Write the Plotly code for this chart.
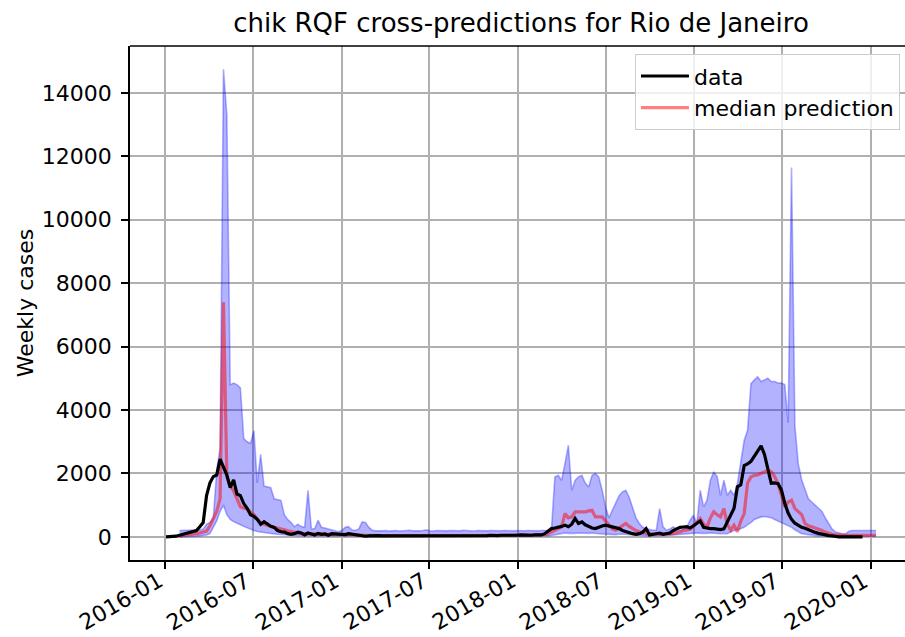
import pandas as pd
import plotly.graph_objects as go

# ---------------- data ----------------
data_start = "2016-01-03"
pred_start = "2016-01-31"

data_cases = [
    0, 0, 10, 20, 50, 80, 100, 130, 160, 200,
    320, 450, 1300, 1700, 1900, 1950, 2450, 2200, 1950, 1550,
    1800, 1350, 1300, 1050, 900, 700, 650, 550, 400, 480,
    400, 330, 300, 200, 160, 150, 100, 80, 100, 150,
    120, 60, 120, 80, 60, 110, 80, 90, 50, 100,
    90, 80, 60, 70, 100, 80, 70, 60, 40, 20,
    30, 40, 30, 40, 30, 30, 20, 30, 30, 20,
    20, 30, 20, 20, 30, 20, 20, 30, 30, 20,
    20, 30, 30, 40, 30, 20, 20, 30, 30, 40,
    30, 30, 40, 40, 30, 40, 50, 40, 40, 50,
    40, 50, 50, 40, 50, 60, 50, 40, 50, 60,
    50, 60, 100, 180, 260, 280, 300, 330, 370, 320,
    400, 580, 420, 470, 380, 320, 280, 260, 310, 340,
    370, 340, 310, 280, 260, 200, 160, 120, 100, 80,
    100, 150, 260, 60, 80, 100, 120, 80, 100, 120,
    200, 250, 300, 310, 320, 280, 350, 420, 500, 300,
    270, 260, 260, 250, 230, 250, 450, 650, 900, 1580,
    1640, 2250, 2300, 2380, 2550, 2700, 2870, 2600, 2170, 1690,
    1700, 1680, 1480, 1060, 750, 550, 430, 350, 300, 270,
    220, 180, 140, 110, 80, 60, 40, 30, 10, 0,
    0, 0, 0, 0, 0, 0, 0,
]

median_pred = [
    30, 40, 50, 60, 80, 100, 120, 150, 180, 350,
    550, 800, 1200, 7400, 1900, 1600, 1450, 1200, 950, 900,
    880, 780, 700, 550, 450, 400, 360, 330, 300, 280,
    260, 220, 190, 160, 140, 120, 110, 105, 110, 100,
    90, 110, 100, 90, 80, 90, 70, 80, 70, 60,
    70, 80, 60, 50, 60, 50, 40, 50, 40, 40,
    40, 30, 40, 40, 30, 30, 40, 30, 30, 40,
    30, 30, 40, 30, 30, 40, 40, 30, 30, 40,
    40, 30, 40, 40, 50, 40, 40, 50, 40, 40,
    50, 40, 50, 50, 40, 50, 50, 40, 50, 50,
    60, 50, 50, 60, 50, 50, 60, 60, 80, 100,
    150, 200, 250, 315, 735, 600, 630, 790, 790, 780,
    790, 820, 840, 630, 630, 630, 500, 370, 250, 210,
    280, 380, 420, 330, 260, 200, 160, 130, 110, 105,
    90, 80, 80, 90, 80, 90, 100, 120, 150, 200,
    210, 250, 315, 450, 580, 400, 315, 600, 790, 700,
    630, 890, 400, 210, 370, 160, 500, 735, 1700, 1890,
    1940, 1950, 2000, 2050, 2100, 2050, 1900, 1680, 1300, 945,
    1100, 1155, 890, 800, 700, 420, 350, 315, 280, 260,
    200, 150, 110, 80, 60, 50, 50, 50, 50, 50,
    50, 50, 50, 50, 50, 50, 50,
]

upper_pred = [
    200, 200, 200, 210, 210, 220, 220, 250, 400, 450,
    600, 2100, 2800, 14750, 13300, 4800, 4850, 4800, 4700, 3100,
    3000, 2950, 3350, 1700, 2600, 1600, 1580, 1550, 1200, 1180,
    1150, 700, 550, 450, 320, 400, 330, 300, 1470, 250,
    260, 520, 300, 280, 250, 220, 180, 160, 200, 300,
    320, 220, 200, 250, 470, 450, 300, 210, 190, 180,
    190, 200, 180, 190, 200, 180, 190, 200, 210, 190,
    180, 190, 200, 220, 190, 180, 200, 190, 180, 190,
    200, 190, 180, 190, 210, 200, 190, 180, 200, 190,
    180, 190, 200, 190, 180, 190, 200, 190, 180, 190,
    200, 190, 190, 200, 190, 180, 190, 200, 200, 210,
    230, 1890, 1940, 1785, 2310, 2890, 1470, 1785, 1890, 1940,
    1700, 1575, 1940, 1995, 1890, 1470, 945, 600, 840, 1050,
    1300, 1420, 1470, 1250, 900, 600, 420, 300, 260, 230,
    210, 210, 890, 315, 210, 250, 315, 250, 210, 250,
    300, 525, 680, 420, 1470, 945, 1155, 1785, 2050, 1900,
    1310, 1785, 1310, 1470, 1310, 1680, 2310, 3045, 3360, 4830,
    4950, 5050, 4900, 4950, 5000, 4900, 4900, 4850, 4850, 4800,
    3600, 11650, 3500, 2300, 1800, 1500, 1200, 1100, 1000, 900,
    800, 600, 400, 250, 150, 120, 100, 100, 180, 200,
    200, 200, 200, 200, 200, 200, 200,
]

lower_pred = [
    0, 0, 10, 10, 20, 20, 30, 40, 60, 100,
    300, 500, 800, 1000, 700, 550, 480, 420, 380, 330,
    280, 230, 200, 170, 150, 130, 110, 100, 90, 80,
    70, 60, 50, 50, 45, 40, 40, 35, 35, 30,
    30, 30, 30, 25, 25, 25, 20, 20, 20, 20,
    20, 20, 20, 20, 15, 15, 15, 15, 15, 15,
    15, 10, 15, 15, 10, 10, 15, 10, 10, 15,
    10, 10, 15, 10, 10, 15, 15, 10, 10, 15,
    15, 10, 15, 15, 20, 15, 15, 20, 15, 15,
    20, 15, 20, 20, 15, 20, 20, 15, 20, 20,
    20, 20, 20, 25, 20, 20, 25, 25, 30, 30,
    40, 60, 80, 100, 120, 110, 100, 110, 120, 110,
    100, 110, 120, 100, 100, 90, 80, 70, 60, 70,
    80, 90, 80, 70, 60, 50, 40, 40, 30, 30,
    30, 30, 40, 40, 40, 50, 60, 70, 80, 90,
    100, 110, 120, 120, 110, 100, 110, 120, 110, 100,
    100, 110, 100, 150, 200, 220, 250, 300, 380, 450,
    550, 600, 630, 640, 630, 600, 550, 500, 450, 400,
    350, 300, 220, 150, 100, 80, 60, 50, 40, 30,
    30, 20, 20, 20, 20, 20, 20, 20, 20, 20,
    20, 20, 20, 20, 20, 20, 20,
]

x_tick_dates = ["2016-01-01", "2016-07-01", "2017-01-01", "2017-07-01", "2018-01-01",
                "2018-07-01", "2019-01-01", "2019-07-01", "2020-01-01"]
x_tick_labels = ["2016-01", "2016-07", "2017-01", "2017-07", "2018-01",
                 "2018-07", "2019-01", "2019-07", "2020-01"]
y_tick_vals = [0, 2000, 4000, 6000, 8000, 10000, 12000, 14000]
y_tick_labels = ["0", "2000", "4000", "6000", "8000", "10000", "12000", "14000"]

data_dates = pd.date_range(data_start, periods=len(data_cases), freq="7D")
pred_dates = pd.date_range(pred_start, periods=len(median_pred), freq="7D")

# ---------------- figure ----------------
FONT = "DejaVu Sans"
FS = 22
band_line = "rgba(0,0,255,0.3)"

fig = go.Figure()
fig.add_trace(go.Scatter(x=pred_dates, y=lower_pred, mode="lines",
                         line=dict(color=band_line, width=1.6),
                         showlegend=False, hoverinfo="skip"))
fig.add_trace(go.Scatter(x=pred_dates, y=upper_pred, mode="lines", fill="tonexty",
                         fillcolor="rgba(0,0,255,0.3)",
                         line=dict(color=band_line, width=1.6),
                         showlegend=False, hoverinfo="skip"))
fig.add_trace(go.Scatter(x=pred_dates, y=median_pred, mode="lines",
                         name="median prediction", legendrank=2,
                         line=dict(color="rgba(255,0,0,0.5)", width=3.2)))
fig.add_trace(go.Scatter(x=data_dates, y=data_cases, mode="lines",
                         name="data", legendrank=1,
                         line=dict(color="black", width=3.2)))

fig.update_layout(
    width=905, height=637,
    margin=dict(l=130, r=0, t=46, b=77, autoexpand=False),
    paper_bgcolor="white", plot_bgcolor="white",
    font=dict(family=FONT, size=FS, color="black"),
    title=dict(text="chik RQF cross-predictions for Rio de Janeiro",
               x=521 / 905, xanchor="center", xref="container",
               y=1 - 23 / 637, yanchor="middle", yref="container",
               font=dict(family=FONT, size=26, color="black")),
    legend=dict(x=0.9935, xanchor="right", y=0.984, yanchor="top",
                traceorder="normal", itemwidth=48,
                bgcolor="rgba(255,255,255,0.8)", bordercolor="#cccccc", borderwidth=1,
                font=dict(family=FONT, size=FS, color="black")),
    showlegend=True,
)

fig.update_xaxes(
    range=["2015-10-20 12:00", "2020-03-11 22:00"],
    tickvals=x_tick_dates, showticklabels=False,
    showgrid=True, gridcolor="#b0b0b0", gridwidth=1.7,
    showline=True, linecolor="black", linewidth=1.7, mirror=False,
    ticks="outside", ticklen=7, tickwidth=1.7, tickcolor="black",
    zeroline=False, automargin=False,
)
fig.update_yaxes(
    range=[-730, 15480],
    tickvals=y_tick_vals, ticktext=y_tick_labels,
    showgrid=True, gridcolor="#b0b0b0", gridwidth=1.7,
    showline=True, linecolor="black", linewidth=1.7, mirror=False,
    ticks="outside", ticklen=7, tickwidth=1.7, tickcolor="black",
    ticklabelstandoff=5,
    zeroline=False, automargin=False,
    title=dict(text="Weekly cases", standoff=2, font=dict(family=FONT, size=FS)),
)

# rotated date labels (matplotlib-style: right/top of rotated box at the tick)
for d, lab in zip(x_tick_dates, x_tick_labels):
    fig.add_annotation(x=d, xref="x", y=0, yref="paper", text=lab,
                       textangle=-30, xanchor="right", yanchor="top",
                       xshift=3, yshift=-6, showarrow=False, borderpad=0,
                       font=dict(family=FONT, size=FS, color="black"))

# top spine
fig.add_shape(type="line", xref="paper", yref="paper", x0=0, x1=1, y0=1, y1=1,
              line=dict(color="black", width=1.7))

fig.write_html("out.html", config={"displayModeBar": False},
               post_script="document.body.style.margin='0';document.body.style.padding='0';")
